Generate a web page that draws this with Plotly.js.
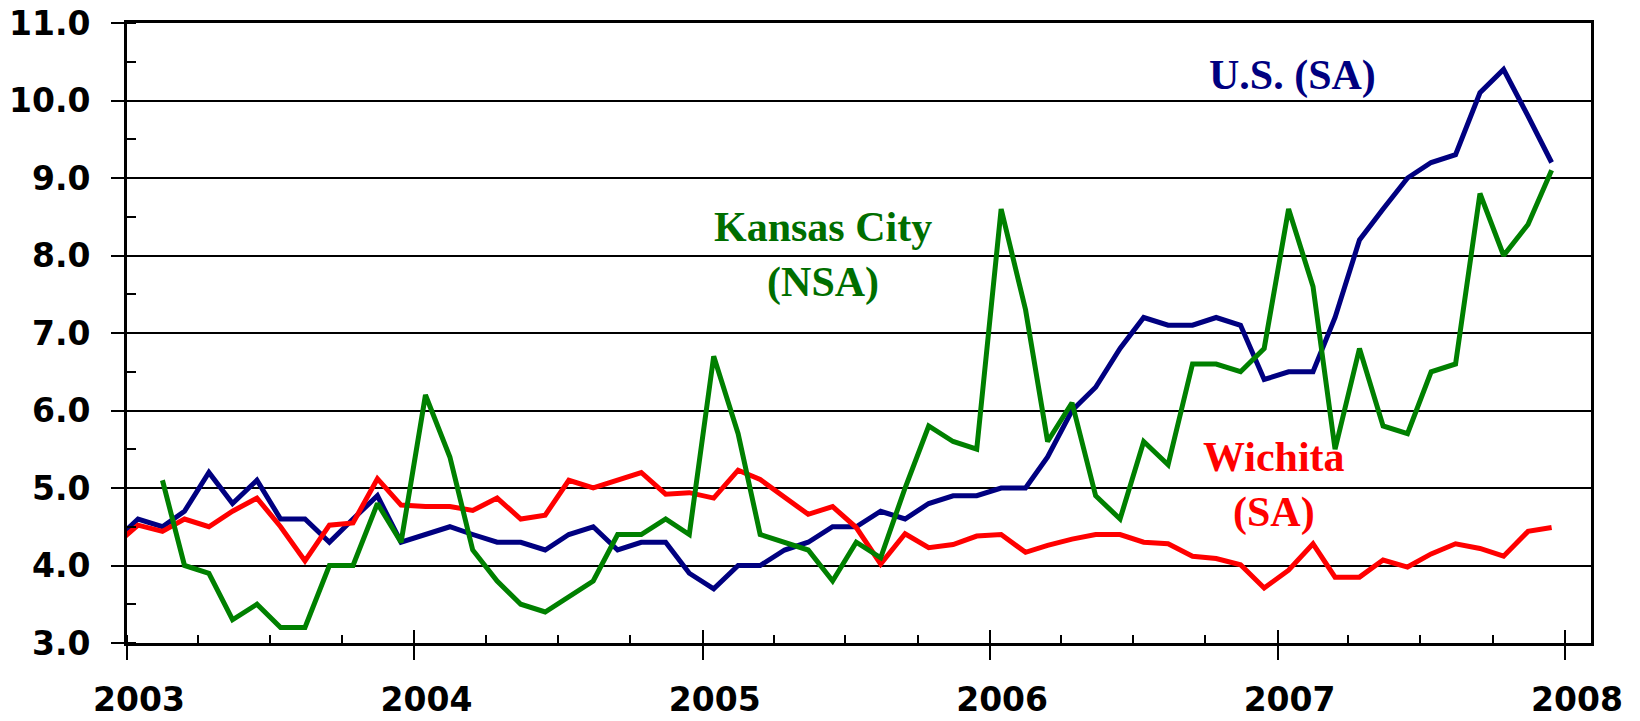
<!DOCTYPE html>
<html>
<head>
<meta charset="utf-8">
<script src="https://cdn.plot.ly/plotly-3.0.1.min.js"></script>
<style>
  html, body { margin: 0; padding: 0; background: #ffffff; }
  #chart { width: 1640px; height: 721px; }
</style>
</head>
<body>
<div id="chart"></div>
<script>
// Monthly data, Dec 2002 .. Dec 2007 (the Dec 2002 point lies left of the axis and is clipped)
const startYear = 2002, startMonth = 12, monthCount = 61;

const usSA = [4.3,
  4.6, 4.5, 4.7, 5.2, 4.8, 5.1, 4.6, 4.6, 4.3, 4.6, 4.9, 4.3,
  4.4, 4.5, 4.4, 4.3, 4.3, 4.2, 4.4, 4.5, 4.2, 4.3, 4.3, 3.9,
  3.7, 4.0, 4.0, 4.2, 4.3, 4.5, 4.5, 4.7, 4.6, 4.8, 4.9, 4.9,
  5.0, 5.0, 5.4, 6.0, 6.3, 6.8, 7.2, 7.1, 7.1, 7.2, 7.1, 6.4,
  6.5, 6.5, 7.2, 8.2, 8.6, 9.0, 9.2, 9.3, 10.1, 10.4, 9.8, 9.2];

const wichitaSA = [4.25,
  4.52, 4.44, 4.60, 4.50, 4.70, 4.87, 4.50, 4.06, 4.52, 4.55, 5.12, 4.78,
  4.76, 4.76, 4.71, 4.87, 4.60, 4.65, 5.10, 5.00, 5.10, 5.20, 4.92, 4.94,
  4.87, 5.23, 5.11, 4.89, 4.66, 4.76, 4.49, 4.02, 4.41, 4.23, 4.27, 4.38,
  4.40, 4.17, 4.26, 4.34, 4.40, 4.40, 4.30, 4.28, 4.12, 4.09, 4.01, 3.71,
  3.94, 4.28, 3.85, 3.85, 4.07, 3.98, 4.15, 4.28, 4.22, 4.12, 4.44, 4.49];

const kansasCityNSA = [null,
  null, 5.1, 4.0, 3.9, 3.3, 3.5, 3.2, 3.2, 4.0, 4.0, 4.8, 4.3,
  6.2, 5.4, 4.2, 3.8, 3.5, 3.4, 3.6, 3.8, 4.4, 4.4, 4.6, 4.4,
  6.7, 5.7, 4.4, 4.3, 4.2, 3.8, 4.3, 4.1, 5.0, 5.8, 5.6, 5.5,
  8.6, 7.3, 5.6, 6.1, 4.9, 4.6, 5.6, 5.3, 6.6, 6.6, 6.5, 6.8,
  8.6, 7.6, 5.5, 6.8, 5.8, 5.7, 6.5, 6.6, 8.8, 8.0, 8.4, 9.1];

const yearTicks = ['2003-01-01', '2004-01-01', '2005-01-01', '2006-01-01', '2007-01-01', '2008-01-01'];
const yearLabels = ['2003', '2004', '2005', '2006', '2007', '2008'];

const labelUS = 'U.S. (SA)';
const labelKC = 'Kansas City<br>(NSA)';
const labelWichita = 'Wichita<br>(SA)';

// month category dates (plotted at mid-month)
const months = [];
for (let i = 0; i < monthCount; i++) {
  const m0 = startMonth - 1 + i;
  const y = startYear + Math.floor(m0 / 12);
  const m = (m0 % 12) + 1;
  months.push(y + '-' + String(m).padStart(2, '0') + '-15');
}

const NAVY = '#000080', GREEN = '#008000', RED = '#FF0000';
const xRange = ['2003-01-01', '2008-02-03'];
const LW = 5;

const traces = [
  { x: months, y: usSA, type: 'scatter', mode: 'lines', name: 'U.S. (SA)',
    line: { color: NAVY, width: LW }, xaxis: 'x', yaxis: 'y', hoverinfo: 'x+y' },
  { x: months, y: wichitaSA, type: 'scatter', mode: 'lines', name: 'Wichita (SA)',
    line: { color: RED, width: LW }, xaxis: 'x', yaxis: 'y', hoverinfo: 'x+y' },
  { x: months, y: kansasCityNSA, type: 'scatter', mode: 'lines', name: 'Kansas City (NSA)',
    line: { color: GREEN, width: LW }, xaxis: 'x2', yaxis: 'y', hoverinfo: 'x+y',
    connectgaps: false }
];

const tickFont = { family: 'DejaVu Sans, Verdana, sans-serif', size: 33, color: '#000000', weight: 'bold' };
const annFont = (c) => ({ family: 'Liberation Serif, Times New Roman, serif', size: 42, color: c, weight: 'bold' });

const layout = {
  width: 1640, height: 721,
  margin: { l: 127, r: 49, t: 23, b: 78 },
  paper_bgcolor: '#ffffff', plot_bgcolor: '#ffffff',
  showlegend: false,
  xaxis: {
    type: 'date', range: xRange, fixedrange: true,
    tickmode: 'array', tickvals: yearTicks, ticktext: yearLabels,
    ticks: 'outside', ticklen: 14, tickwidth: 2, tickcolor: '#000',
    ticklabelshift: 12, ticklabelstandoff: 11,
    tickfont: tickFont,
    showgrid: false, zeroline: false,
    showline: true, linecolor: '#000', linewidth: 3, mirror: true,
    minor: { tick0: '2003-01-01', dtick: 'M3', ticks: 'inside', ticklen: 8, tickwidth: 2, tickcolor: '#000', showgrid: false }
  },
  xaxis2: {
    type: 'date', range: xRange, fixedrange: true,
    overlaying: 'x', anchor: 'y', side: 'bottom',
    tickmode: 'array', tickvals: yearTicks,
    ticks: 'inside', ticklen: 13, tickwidth: 2, tickcolor: '#000',
    showticklabels: false, showgrid: false, zeroline: false, showline: false
  },
  yaxis: {
    range: [3, 11], fixedrange: true,
    tickmode: 'linear', tick0: 3, dtick: 1, tickformat: '.1f',
    ticks: 'outside', ticklen: 13, tickwidth: 2, tickcolor: '#000',
    ticklabelstandoff: 14,
    tickfont: tickFont,
    showgrid: true, gridcolor: '#000000', gridwidth: 2,
    zeroline: false,
    showline: true, linecolor: '#000', linewidth: 3, mirror: true,
    minor: { tick0: 3, dtick: 0.5, ticks: 'inside', ticklen: 9, tickwidth: 2, tickcolor: '#000', showgrid: false }
  },
  annotations: [
    { text: labelUS, xref: 'paper', yref: 'paper', x: 0.796, y: 0.916,
      xanchor: 'center', yanchor: 'middle', showarrow: false, font: annFont(NAVY) },
    { text: labelKC, xref: 'paper', yref: 'paper', x: 0.4752, y: 0.626,
      xanchor: 'center', yanchor: 'middle', showarrow: false, font: annFont('#006E00') },
    { text: labelWichita, xref: 'paper', yref: 'paper', x: 0.7833, y: 0.2544,
      xanchor: 'center', yanchor: 'middle', showarrow: false, font: annFont(RED) }
  ]
};

Plotly.newPlot('chart', traces, layout, { staticPlot: true, displayModeBar: false });
</script>
</body>
</html>
